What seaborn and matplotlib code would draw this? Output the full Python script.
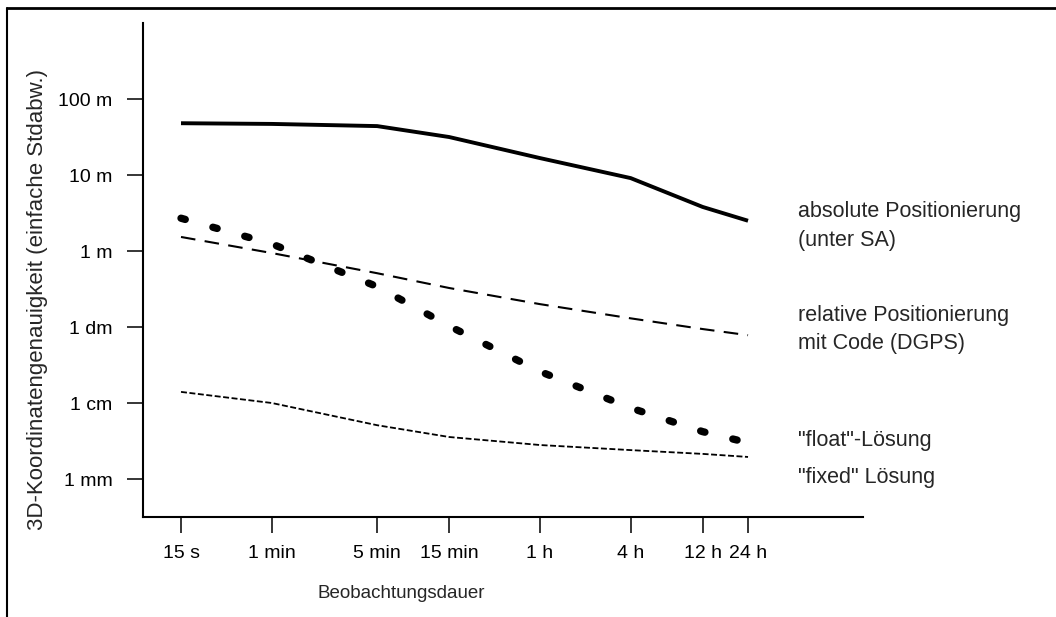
import pandas as pd
import seaborn as sns
import matplotlib.pyplot as plt
from matplotlib.lines import Line2D

# Beobachtungsdauer in Sekunden
dauer_s = [15, 60, 300, 900, 3600, 14400, 43200, 86400]
dauer_labels = ["15 s", "1 min", "5 min", "15 min", "1 h", "4 h", "12 h", "24 h"]

# 3D-Genauigkeit in Metern
absolut = [48, 47, 44, 31.6, 16.7, 9.1, 3.8, 2.5]
relativ_code = [1.53, 0.94, 0.51, 0.326, 0.20, 0.13, 0.094, 0.078]
float_loesung = [2.7, 1.24, 0.34, 0.103, 0.026, 0.0086, 0.0042, 0.003]
fixed_loesung = [0.014, 0.010, 0.0051, 0.00357, 0.0028, 0.0024, 0.00214, 0.00195]

genau_ticks = [100, 10, 1, 0.1, 0.01, 0.001]
genau_labels = ["100 m", "10 m", "1 m", "1 dm", "1 cm", "1 mm"]

df = pd.DataFrame({
    "dauer": dauer_s,
    "absolut": absolut,
    "relativ": relativ_code,
    "float": float_loesung,
    "fixed": fixed_loesung,
})

sns.set_style("ticks")
plt.rcParams["font.family"] = ["Liberation Sans", "DejaVu Sans"]
plt.rcParams["font.size"] = 14

fig = plt.figure(figsize=(10.56, 6.17), dpi=100)
ax = fig.add_axes([143 / 1056, 1 - 517 / 617, 720 / 1056, 494 / 617])
ax.set_xscale("log")
ax.set_yscale("log")

sns.lineplot(data=df, x="dauer", y="absolut", ax=ax, color="black",
             linewidth=2.8, solid_capstyle="butt")
sns.lineplot(data=df, x="dauer", y="relativ", ax=ax, color="black",
             linewidth=1.5, linestyle=(0, (7, 4.5)))
sns.lineplot(data=df, x="dauer", y="float", ax=ax, color="black",
             linewidth=5.3, linestyle=(0, (0.6, 3.9)), dash_capstyle="round")
sns.lineplot(data=df, x="dauer", y="fixed", ax=ax, color="black",
             linewidth=1.3, linestyle=(0, (3.3, 1.4)))

ax.set_xlim(10 ** 0.924, 10 ** 5.699)
ax.set_ylim(10 ** -3.5, 1000)
ax.minorticks_off()
ax.set_xticks(dauer_s, dauer_labels)
ax.set_yticks(genau_ticks, genau_labels)
ax.tick_params(axis="both", direction="out", length=11.5, width=1.1,
               color="black", labelcolor="black", labelsize=14)
ax.tick_params(axis="y", pad=10.5)
ax.tick_params(axis="x", pad=8.5)

sns.despine(ax=ax)
for s in ["left", "bottom"]:
    ax.spines[s].set_linewidth(1.5)
    ax.spines[s].set_color("black")

ax.set_xlabel("Beobachtungsdauer", fontsize=13.5)
ax.set_ylabel("3D-Koordinatengenauigkeit (einfache Stdabw.)", fontsize=16)
ax.xaxis.set_label_coords(0.358, -0.138)
ax.yaxis.set_label_coords(-0.132, 0.44)

# Beschriftungen rechts neben den Kurven
beschriftung = [
    ("absolute Positionierung\n(unter SA)", 0.589),
    ("relative Positionierung\nmit Code (DGPS)", 0.379),
    ("\"float\"-Lösung", 0.154),
    ("\"fixed\" Lösung", 0.079),
]
for txt, yy in beschriftung:
    ax.text(0.910, yy, txt, transform=ax.transAxes, ha="left", va="center",
            fontsize=15.5, linespacing=1.45, clip_on=False)

# Rahmen oben und links
fig.add_artist(Line2D([7 / 1056, 7 / 1056], [0, 1 - 8 / 617],
                      transform=fig.transFigure, color="black", lw=1.5))
fig.add_artist(Line2D([7 / 1056, 1], [1 - 8 / 617, 1 - 8 / 617],
                      transform=fig.transFigure, color="black", lw=2))

fig.savefig("out.png", dpi=100)
